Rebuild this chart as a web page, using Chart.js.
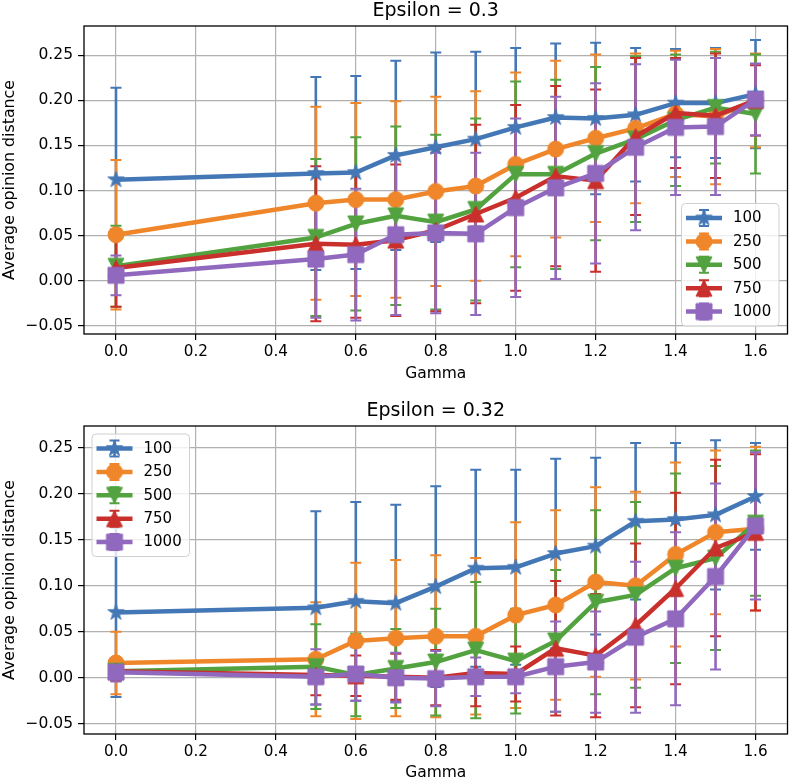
<!DOCTYPE html>
<html><head><meta charset="utf-8">
<script src="https://cdn.jsdelivr.net/npm/chart.js@4.4.1/dist/chart.umd.min.js"></script>
<style>
html,body{margin:0;padding:0;background:#fff;}
#wrap{position:relative;width:800px;height:782px;}
canvas{position:absolute;left:0;}
</style></head><body>
<div id="wrap">
<canvas id="c1" width="800" height="391" style="top:0"></canvas>
<canvas id="c2" width="800" height="391" style="top:391px"></canvas>
</div>
<script>
// ---------- data ----------
const gamma = [0.0, 0.5, 0.6, 0.7, 0.8, 0.9, 1.0, 1.1, 1.2, 1.3, 1.4, 1.5, 1.6];
const seriesLabels = ['100', '250', '500', '750', '1000'];
const xTicks = [0.0, 0.2, 0.4, 0.6, 0.8, 1.0, 1.2, 1.4, 1.6];
const yTicks = [-0.05, 0.00, 0.05, 0.10, 0.15, 0.20, 0.25];

// Epsilon = 0.3
const e30_mean_100  = [0.112, 0.119, 0.120, 0.139, 0.148, 0.157, 0.170, 0.181, 0.180, 0.184, 0.197, 0.197, 0.207];
const e30_std_100   = [0.102, 0.107, 0.107, 0.105, 0.105, 0.097, 0.088, 0.082, 0.084, 0.074, 0.060, 0.061, 0.060];
const e30_mean_250  = [0.051, 0.086, 0.090, 0.090, 0.099, 0.105, 0.129, 0.146, 0.158, 0.169, 0.185, 0.182, 0.200];
const e30_std_250   = [0.083, 0.107, 0.107, 0.109, 0.105, 0.105, 0.102, 0.098, 0.093, 0.083, 0.070, 0.075, 0.052];
const e30_mean_500  = [0.016, 0.048, 0.063, 0.072, 0.065, 0.079, 0.118, 0.118, 0.141, 0.157, 0.178, 0.192, 0.185];
const e30_std_500   = [0.045, 0.087, 0.096, 0.099, 0.097, 0.101, 0.103, 0.105, 0.096, 0.092, 0.073, 0.062, 0.066];
const e30_mean_750  = [0.014, 0.041, 0.040, 0.045, 0.056, 0.074, 0.092, 0.116, 0.111, 0.160, 0.186, 0.183, 0.200];
const e30_std_750   = [0.043, 0.086, 0.081, 0.084, 0.090, 0.099, 0.103, 0.100, 0.101, 0.087, 0.061, 0.069, 0.039];
const e30_mean_1000 = [0.006, 0.024, 0.029, 0.051, 0.053, 0.052, 0.081, 0.103, 0.119, 0.148, 0.170, 0.171, 0.201];
const e30_std_1000  = [0.022, 0.065, 0.073, 0.089, 0.089, 0.090, 0.099, 0.101, 0.100, 0.092, 0.075, 0.076, 0.040];

// Epsilon = 0.32
const e32_mean_100  = [0.071, 0.076, 0.083, 0.081, 0.099, 0.119, 0.120, 0.135, 0.143, 0.170, 0.172, 0.177, 0.197];
const e32_std_100   = [0.092, 0.105, 0.108, 0.107, 0.109, 0.107, 0.106, 0.103, 0.096, 0.085, 0.083, 0.081, 0.058];
const e32_mean_250  = [0.016, 0.020, 0.040, 0.043, 0.045, 0.045, 0.068, 0.079, 0.104, 0.100, 0.134, 0.158, 0.162];
const e32_std_250   = [0.034, 0.062, 0.085, 0.085, 0.088, 0.085, 0.101, 0.103, 0.103, 0.102, 0.100, 0.089, 0.089];
const e32_mean_500  = [0.007, 0.012, 0.003, 0.010, 0.017, 0.030, 0.018, 0.040, 0.082, 0.090, 0.119, 0.130, 0.168];
const e32_std_500   = [0.010, 0.046, 0.045, 0.043, 0.058, 0.074, 0.057, 0.077, 0.100, 0.101, 0.103, 0.100, 0.079];
const e32_mean_750  = [0.007, 0.003, 0.002, 0.001, 0.000, 0.005, 0.004, 0.032, 0.024, 0.057, 0.097, 0.141, 0.158];
const e32_std_750   = [0.010, 0.022, 0.022, 0.025, 0.030, 0.036, 0.030, 0.073, 0.067, 0.089, 0.104, 0.096, 0.085];
const e32_mean_1000 = [0.006, 0.001, 0.004, 0.000, -0.001, 0.001, 0.001, 0.012, 0.017, 0.044, 0.064, 0.110, 0.165];
const e32_std_1000  = [0.010, 0.030, 0.029, 0.027, 0.030, 0.021, 0.018, 0.049, 0.055, 0.082, 0.094, 0.101, 0.080];

// ---------- style ----------
const colors = ['#4477b5', '#f0862a', '#52a23f', '#c9302c', '#9068be'];
const shapes = ['star', 'circle', 'tridown', 'triup', 'square'];
Chart.defaults.font.family = '"DejaVu Sans", sans-serif';
Chart.defaults.color = '#000';

function makeMarker(shape, color, s) {
  const c = document.createElement('canvas');
  const n = Math.ceil(s + 4);
  c.width = n; c.height = n;
  const g = c.getContext('2d');
  const cx = n / 2, cy = n / 2, r = s / 2;
  g.beginPath();
  if (shape === 'circle') {
    g.arc(cx, cy, r, 0, Math.PI * 2);
  } else if (shape === 'square') {
    g.rect(cx - r, cy - r, s, s);
  } else if (shape === 'triup') {
    g.moveTo(cx, cy - r); g.lineTo(cx + r, cy + r); g.lineTo(cx - r, cy + r); g.closePath();
  } else if (shape === 'tridown') {
    g.moveTo(cx, cy + r); g.lineTo(cx + r, cy - r); g.lineTo(cx - r, cy - r); g.closePath();
  } else if (shape === 'star') {
    const ri = r * 0.381966;
    for (let k = 0; k < 10; k++) {
      const a = -Math.PI / 2 + k * Math.PI / 5;
      const rr = k % 2 === 0 ? r : ri;
      const px = cx + rr * Math.cos(a), py = cy + rr * Math.sin(a);
      if (k === 0) g.moveTo(px, py); else g.lineTo(px, py);
    }
    g.closePath();
  }
  g.fillStyle = color; g.fill();
  g.lineWidth = 1; g.strokeStyle = color; g.lineJoin = 'miter'; g.stroke();
  return c;
}
const markerSizes = [17, 16, 16, 16, 16];
const markers = shapes.map((sh, i) => makeMarker(sh, colors[i], markerSizes[i]));

function buildDatasets(means, stds) {
  return seriesLabels.map((lab, i) => ({
    label: lab,
    data: gamma.map((g, j) => ({ x: g, y: means[i][j] })),
    errors: stds[i],
    borderColor: colors[i],
    backgroundColor: colors[i],
    borderWidth: 4.5,
    borderJoinStyle: 'round',
    tension: 0,
    pointStyle: markers[i],
    pointRadius: 8,
    pointHoverRadius: 8,
    order: 5 - i
  }));
}

// ---------- plugins ----------
const errorBarPlugin = {
  id: 'errorBars',
  beforeDatasetsDraw(chart) {
    const { ctx, chartArea: a } = chart;
    const xs = chart.scales.x, ys = chart.scales.y;
    ctx.save();
    ctx.beginPath(); ctx.rect(a.left, a.top, a.right - a.left, a.bottom - a.top); ctx.clip();
    chart.data.datasets.forEach(ds => {
      ctx.strokeStyle = ds.borderColor;
      ds.data.forEach((p, j) => {
        const e = ds.errors[j];
        const x = xs.getPixelForValue(p.x);
        const y1 = ys.getPixelForValue(p.y - e), y2 = ys.getPixelForValue(p.y + e);
        ctx.lineWidth = 2.6;
        ctx.beginPath(); ctx.moveTo(x, y1); ctx.lineTo(x, y2); ctx.stroke();
        ctx.lineWidth = 2;
        ctx.beginPath();
        ctx.moveTo(x - 5.5, y1); ctx.lineTo(x + 5.5, y1);
        ctx.moveTo(x - 5.5, y2); ctx.lineTo(x + 5.5, y2);
        ctx.stroke();
      });
    });
    ctx.restore();
  }
};

const framePlugin = {
  id: 'frame',
  afterDatasetsDraw(chart) {
    const { ctx, chartArea: a } = chart;
    ctx.save();
    ctx.strokeStyle = '#000'; ctx.lineWidth = 1.3;
    ctx.strokeRect(a.left, a.top, a.right - a.left, a.bottom - a.top);
    ctx.restore();
  }
};

const mplLegendPlugin = {
  id: 'mplLegend',
  afterDraw(chart, args, opts) {
    const { ctx, chartArea: a } = chart;
    const w = 97.5, h = 122.5;
    let left, top;
    if (opts.loc === 'lower right') { left = a.right - 8.5 - w; top = a.bottom - 8 - h; }
    else { left = a.left + 8; top = a.top + 8; }
    ctx.save();
    const rad = 4;
    ctx.beginPath();
    ctx.moveTo(left + rad, top);
    ctx.arcTo(left + w, top, left + w, top + h, rad);
    ctx.arcTo(left + w, top + h, left, top + h, rad);
    ctx.arcTo(left, top + h, left, top, rad);
    ctx.arcTo(left, top, left + w, top, rad);
    ctx.closePath();
    ctx.fillStyle = 'rgba(255,255,255,0.8)'; ctx.fill();
    ctx.strokeStyle = '#d0d0d0'; ctx.lineWidth = 1; ctx.stroke();
    chart.data.datasets.forEach((ds, i) => {
      const cy = top + 14.5 + i * 23.4;
      const x0 = left + 4.5, x1 = left + 40.5, cx = left + 22.5;
      ctx.strokeStyle = ds.borderColor;
      ctx.lineWidth = 4.5;
      ctx.beginPath(); ctx.moveTo(x0, cy); ctx.lineTo(x1, cy); ctx.stroke();
      ctx.lineWidth = 2.6;
      ctx.beginPath(); ctx.moveTo(cx, cy - 8); ctx.lineTo(cx, cy + 8); ctx.stroke();
      ctx.lineWidth = 2;
      ctx.beginPath();
      ctx.moveTo(cx - 5, cy - 8); ctx.lineTo(cx + 5, cy - 8);
      ctx.moveTo(cx - 5, cy + 8); ctx.lineTo(cx + 5, cy + 8);
      ctx.stroke();
      const m = ds.pointStyle;
      ctx.drawImage(m, cx - m.width / 2, cy - m.height / 2);
      ctx.fillStyle = '#000';
      ctx.font = '15px "DejaVu Sans", sans-serif';
      ctx.textBaseline = 'middle'; ctx.textAlign = 'left';
      ctx.fillText(ds.label, left + 51.5, cy + 0.5);
    });
    ctx.restore();
  }
};

function fmtY(v) {
  if (Math.abs(v) < 1e-9) return '0.00';
  return (v < 0 ? '\u2212' : '') + Math.abs(v).toFixed(2);
}

function makeChart(id, title, datasets, cfg) {
  return new Chart(document.getElementById(id), {
    type: 'line',
    data: { datasets },
    plugins: [errorBarPlugin, framePlugin, mplLegendPlugin],
    options: {
      responsive: false,
      animation: false,
      events: [],
      layout: { padding: { left: 0, right: 3, top: 0, bottom: 0 } },
      plugins: {
        legend: { display: false },
        tooltip: { enabled: false },
        title: {
          display: true, text: title, fullSize: false,
          font: { size: 19, weight: 'normal' }, color: '#000',
          padding: { top: cfg.titleTop, bottom: cfg.titleBottom }
        },
        mplLegend: { loc: cfg.legendLoc }
      },
      scales: {
        x: {
          type: 'linear', min: -0.08, max: 1.68,
          afterBuildTicks: s => { s.ticks = xTicks.map(v => ({ value: v })); },
          afterFit: s => { s.height = cfg.xAxisH; s.paddingLeft = 0; s.paddingRight = 0; },
          ticks: { callback: v => v.toFixed(1), font: { size: 15.2 }, padding: 3, color: '#000', maxRotation: 0, autoSkip: false },
          grid: { color: '#b0b0b0', lineWidth: 1.2, tickColor: '#000', tickLength: 6, tickWidth: 1.2 },
          border: { display: false },
          title: { display: true, text: 'Gamma', font: { size: 15.5 }, color: '#000', padding: { top: 0, bottom: cfg.xTitlePad } }
        },
        y: {
          type: 'linear', min: cfg.yMin, max: cfg.yMax,
          afterBuildTicks: s => { s.ticks = yTicks.map(v => ({ value: v })); },
          afterFit: s => { s.width = 84; s.paddingTop = 0; s.paddingBottom = 0; },
          ticks: { callback: v => fmtY(v), font: { size: 15.5 }, padding: 5, color: '#000', autoSkip: false },
          grid: { color: '#b0b0b0', lineWidth: 1.2, tickColor: '#000', tickLength: 6, tickWidth: 1.2 },
          border: { display: false },
          title: { display: true, text: 'Average opinion distance', font: { size: 15.8 }, color: '#000', padding: { top: 0, bottom: 0 } }
        }
      }
    }
  });
}

makeChart('c1', 'Epsilon = 0.3',
  buildDatasets([e30_mean_100, e30_mean_250, e30_mean_500, e30_mean_750, e30_mean_1000],
                [e30_std_100, e30_std_250, e30_std_500, e30_std_750, e30_std_1000]),
  { titleTop: 0.1, titleBottom: 3.1, xAxisH: 57, xTitlePad: 7.7, yMin: -0.0591, yMax: 0.2825, legendLoc: 'lower right' });

makeChart('c2', 'Epsilon = 0.32',
  buildDatasets([e32_mean_100, e32_mean_250, e32_mean_500, e32_mean_750, e32_mean_1000],
                [e32_std_100, e32_std_250, e32_std_500, e32_std_750, e32_std_1000]),
  { titleTop: 8.3, titleBottom: 3.9, xAxisH: 48, xTitlePad: 0, yMin: -0.0612, yMax: 0.2736, legendLoc: 'upper left' });
</script>
</body></html>
